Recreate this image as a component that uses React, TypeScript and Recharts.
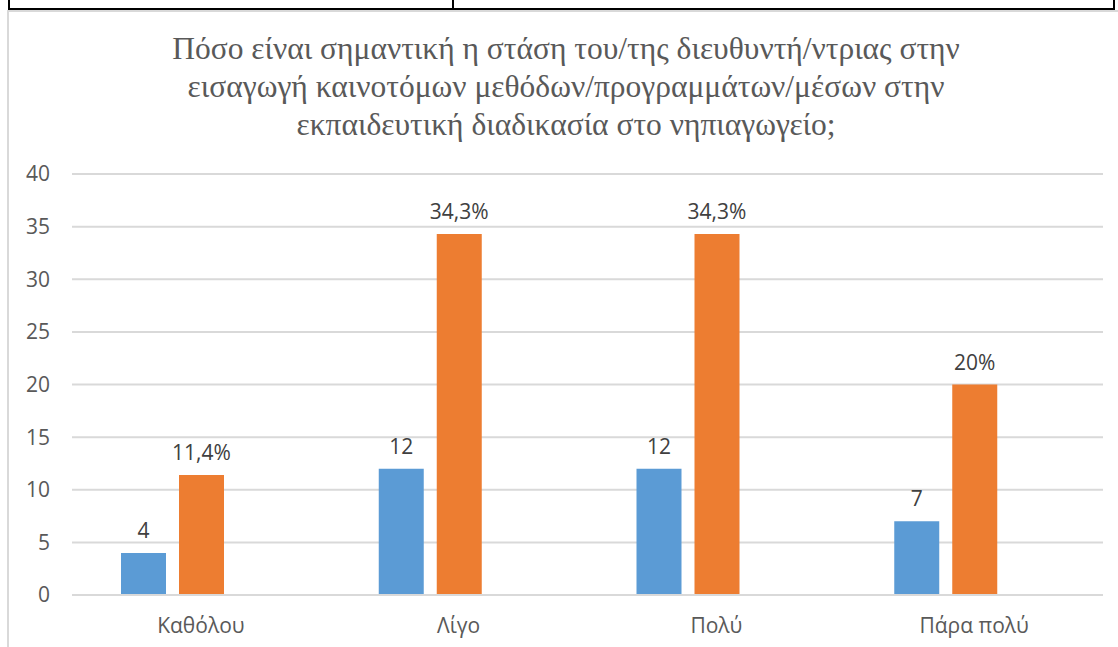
import React from "react";
import { BarChart, Bar, XAxis, YAxis, CartesianGrid, LabelList } from "recharts";

const CATEGORIES = ["Καθόλου", "Λίγο", "Πολύ", "Πάρα πολύ"];
const COUNTS = [4, 12, 12, 7];
const PERCENTS = [11.4, 34.3, 34.3, 20];
const Y_TICKS = [0, 5, 10, 15, 20, 25, 30, 35, 40];
const TITLE_LINES = [
  "Πόσο είναι σημαντική η στάση του/της διευθυντή/ντριας στην",
  "εισαγωγή καινοτόμων μεθόδων/προγραμμάτων/μέσων στην",
  "εκπαιδευτική διαδικασία στο νηπιαγωγείο;",
];

const data = CATEGORIES.map((name, i) => ({
  name,
  count: COUNTS[i],
  percent: PERCENTS[i],
  empty: null,
}));

const FONT = "'Open Sans', sans-serif";

const formatPercent = (v: any) => String(v).replace(".", ",") + "%";

export default function App() {
  return (
    <div style={{ position: "absolute", left: 0, top: 0, width: 1118, height: 647, background: "#fff", overflow: "hidden" }}>
      {/* table borders from the document */}
      <div style={{ position: "absolute", left: 8, top: 8, width: 1107, height: 2, background: "#000" }} />
      <div style={{ position: "absolute", left: 8, top: 0, width: 2, height: 10, background: "#000" }} />
      <div style={{ position: "absolute", left: 452, top: 0, width: 2, height: 10, background: "#000" }} />
      <div style={{ position: "absolute", left: 1113, top: 0, width: 2, height: 10, background: "#000" }} />
      <div style={{ position: "absolute", left: 7, top: 10, width: 1111, height: 2, background: "#d9d9d9" }} />
      <div style={{ position: "absolute", left: 7, top: 10, width: 2, height: 637, background: "#d9d9d9" }} />

      <div
        style={{
          position: "absolute",
          left: 0,
          width: 1132,
          top: 30,
          textAlign: "center",
          fontFamily: "'Liberation Serif', 'Times New Roman', Times, serif",
          fontSize: 31.5,
          lineHeight: "38px",
          color: "#595959",
          whiteSpace: "nowrap",
        }}
      >
        {TITLE_LINES.map((l) => (
          <div key={l}>{l}</div>
        ))}
      </div>

      <div style={{ position: "absolute", left: 0, top: 0 }}>
        <BarChart
          width={1118}
          height={647}
          data={data}
          margin={{ top: 174, right: 15, bottom: 0, left: 0 }}
          barCategoryGap={49}
          barGap={13}
        >
          <CartesianGrid vertical={false} stroke="#d9d9d9" strokeWidth={2} />
          <XAxis
            dataKey="name"
            height={52}
            tickLine={false}
            tickSize={0}
            tickMargin={23}
            axisLine={{ stroke: "#d9d9d9", strokeWidth: 2 }}
            tick={{ fill: "#595959", fontSize: 21, fontFamily: FONT }}
          />
          <YAxis
            width={72}
            domain={[0, 40]}
            ticks={Y_TICKS}
            axisLine={false}
            tickLine={false}
            tickSize={0}
            tickMargin={22}
            tick={{ fill: "#595959", fontSize: 21, fontFamily: FONT }}
          />
          <Bar dataKey="count" fill="#5b9bd5" isAnimationActive={false}>
            <LabelList dataKey="count" position="top" offset={15} fill="#404040" fontSize={21} fontFamily={FONT} />
          </Bar>
          <Bar dataKey="percent" fill="#ed7d31" isAnimationActive={false}>
            <LabelList
              dataKey="percent"
              position="top"
              offset={15}
              fill="#404040"
              fontSize={21}
              fontFamily={FONT}
              formatter={formatPercent}
            />
          </Bar>
          <Bar dataKey="empty" fill="#a5a5a5" isAnimationActive={false} />
        </BarChart>
      </div>
    </div>
  );
}
